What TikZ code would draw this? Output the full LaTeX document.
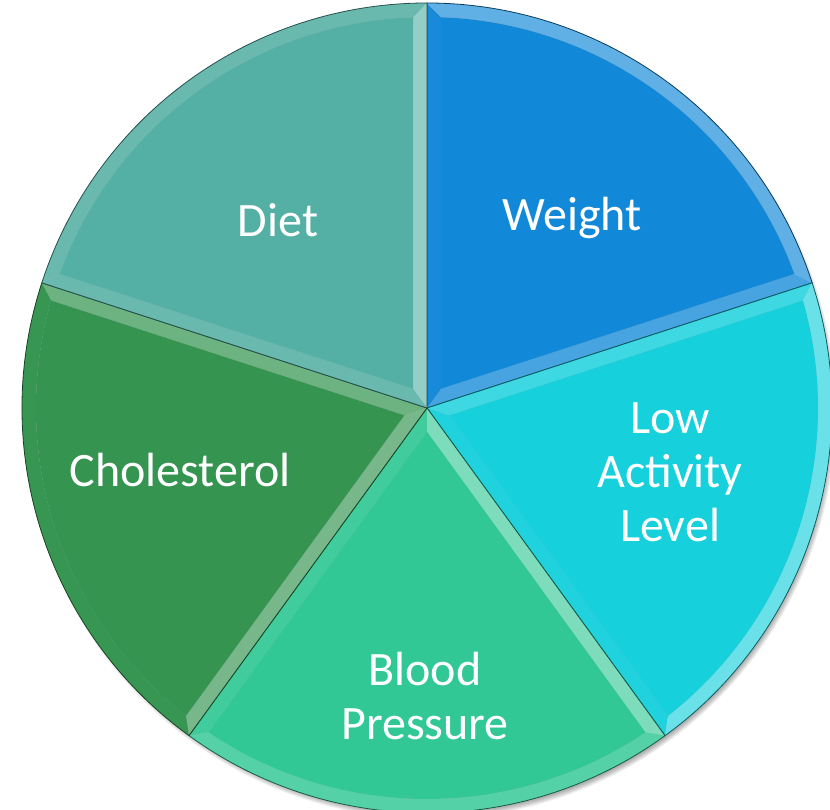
\documentclass[tikz,border=0pt]{standalone}
\usepackage{fontspec}
\setmainfont{Carlito}
\begin{document}
\begin{tikzpicture}[x=1pt,y=1pt,
  lbl/.style={text=white,font=\fontsize{48}{54}\selectfont,align=center,inner sep=0pt}]
\definecolor{cDiet}{RGB}{84,176,164}
\definecolor{cWeight}{RGB}{18,136,216}
\definecolor{cLow}{RGB}{22,208,220}
\definecolor{cBlood}{RGB}{50,200,150}
\definecolor{cChol}{RGB}{52,148,80}
\useasboundingbox (0,0) rectangle (830,810);
\clip (0,0) rectangle (830,810);
% soft shadow
\foreach \k in {0,...,5}{
  \fill[black,opacity=0.06] (430,397) circle ({406-\k});
}
\begin{scope}[shift={(427,402)}]
\def\R{405}
\def\r{391}
\def\al{2.05}
\def\ap{23.8}
\foreach \a/\b/\col in {18/90/cWeight, -54/18/cLow, -126/-54/cBlood, 162/234/cChol, 90/162/cDiet} {
  \pgfmathsetmacro{\m}{(\a+\b)/2}
  \pgfmathtruncatemacro{\pa}{round(80-18*cos(\a-90-10))}
  \pgfmathtruncatemacro{\pb}{round(80-18*cos(\b+90-10))}
  \pgfmathtruncatemacro{\pc}{round(80-18*cos(\m-10))}
  % side facet along a
  \fill[\col!\pa!white] (0,0) -- (\a:\R) -- ({\a+\al}:\r) -- (\m:\ap) -- cycle;
  % side facet along b
  \fill[\col!\pb!white] (0,0) -- (\b:\R) -- ({\b-\al}:\r) -- (\m:\ap) -- cycle;
  % arc facet
  \fill[\col!\pc!white] (\a:\R) arc[start angle=\a, end angle=\b, radius=\R]
     -- ({\b-\al}:\r) arc[start angle={\b-\al}, end angle={\a+\al}, radius=\r] -- cycle;
  % inner face
  \fill[\col] (\m:\ap) -- ({\a+\al}:\r) arc[start angle={\a+\al}, end angle={\b-\al}, radius=\r] -- cycle;
  % outline
  \draw[\col!45!black,line width=0.8pt,line join=round] (0,0) -- (\a:\R) arc[start angle=\a, end angle=\b, radius=\R] -- cycle;
}
\end{scope}
\node[lbl] (diet) at (278,590) {Diet};
\node[lbl] (weight) at (572,592) {Weight};
\node[lbl] (low) at (670,338) {Low\\Activity\\Level};
\node[lbl] (chol) at (180,340) {Cholesterol};
\node[lbl] (blood) at (425,114) {Blood\\Pressure};
\end{tikzpicture}
\end{document}
